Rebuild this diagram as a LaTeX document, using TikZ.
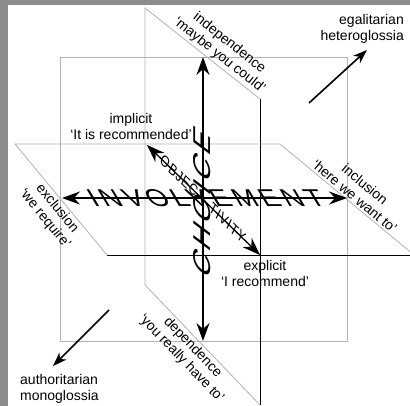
\documentclass[tikz,border=0pt]{standalone}
\usepackage{fontspec}
\usepackage{graphicx}
\setmainfont{Liberation Sans}
\usetikzlibrary{arrows.meta,calc,positioning}

\tikzset{
  plane/.style={draw=gray!60,line width=0.8pt},
  edge/.style={draw=black,line width=0.8pt},
  axis/.style={line width=1.3pt,{Stealth[length=18pt,width=13pt,inset=6pt]}-{Stealth[length=18pt,width=13pt,inset=6pt]}},
  pole/.style={line width=1.6pt,-{Stealth[length=14pt,width=10pt,inset=4pt]}},
  lbl/.style={font=\fontsize{14}{16}\selectfont,align=center,inner sep=2pt},
  big/.style={inner sep=0pt,transform shape},
}
\newcommand\spaced[2]{{\addfontfeature{LetterSpace=#1}#2}}

\begin{document}
\begin{tikzpicture}[x=1pt,y=-1pt]
\fill[black!45] (0,0) rectangle (410,406);
\fill[white] (8,5) rectangle (410,406);
\useasboundingbox (0,0) rectangle (410,406);
% back square
\draw[plane] (60,57) rectangle (347,341);
% vertical plane
\coordinate (v1) at (145,8);
\coordinate (v2) at (260,99);
\coordinate (v3) at (260,405);
\coordinate (v4) at (145,285);
\draw[plane] (v3) -- (v4) -- (v1) -- (v2);
\draw[edge] (v2) -- (v3);
% horizontal plane
\coordinate (h1) at (15,144);
\coordinate (h2) at (280,144);
\coordinate (h3) at (410,251.7);
\coordinate (h4) at (107,255);
\coordinate (h5) at (410,255);
\draw[plane] (h3) -- (h2) -- (h1) -- (h4);
\draw[edge] (h4) -- (h5);
% plane labels
\path (v1) -- (v2) node[lbl,sloped,above,pos=.6] (indep) {independence\\‘maybe you could’};
\path (h2) -- (h3) node[lbl,sloped,above,pos=.54] (incl) {inclusion\\‘here we want to’};
\path (h1) -- (h4) node[lbl,sloped,below,pos=.53] (excl) {exclusion\\‘we require’};
\path (v4) -- (v3) node[lbl,sloped,below,pos=.47] (dep) {dependence\\‘you really have to’};
\node[lbl] (impl) at (131,126) {implicit\\‘It is recommended’};
\node[lbl] (expl) at (265,273) {explicit\\‘I recommend’};
\node[lbl,align=right,anchor=east] (egal) at (406,29) {egalitarian\\heteroglossia};
\node[lbl,align=left,anchor=west] (auth) at (18,389) {authoritarian\\monoglossia};
% axes
\coordinate (ct) at (203,57);
\coordinate (cb) at (203,341);
\coordinate (il) at (62,198);
\coordinate (ir) at (347,198);
\coordinate (ob) at (147,145);
\coordinate (of) at (260,255);
\draw[axis] (cb) -- (ct);
\draw[axis] (il) -- (ir);
\draw[axis] (ob) -- (of);
\coordinate (e1) at (309,103);
\coordinate (e2) at (367,50);
\coordinate (a1) at (109,310);
\coordinate (a2) at (53,366);
\draw[pole] (e1) -- (e2);
\draw[pole] (a1) -- (a2);
% axis names
\node[big,cm={1,0,-0.6,1,(206,198)}] (inv) at (0,0) {\resizebox{234pt}{17pt}{\spaced{14}{INVOLVEMENT}}};
\node[big,cm={0,1,-1,0.75,(202,202)}] (cho) at (0,0) {\resizebox{144pt}{17pt}{\spaced{14}{CHOICE}}};
\node[big,cm={0.717,-0.698,0.45,0.9,(203,199)}] (obj) at (0,0) {\resizebox{116pt}{10pt}{\spaced{8}{OBJEC\hspace{1.4em}TIVITY}}};
\end{tikzpicture}
\end{document}
